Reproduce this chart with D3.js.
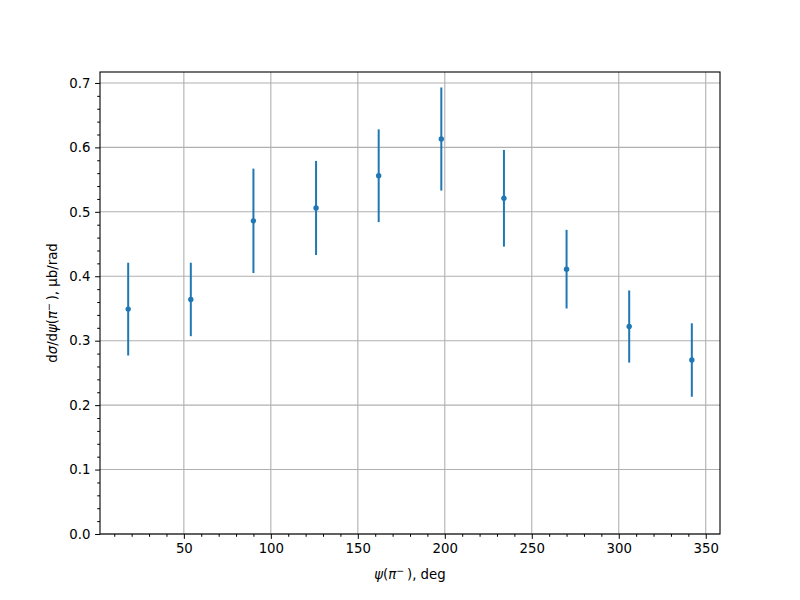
<!DOCTYPE html>
<html>
<head>
<meta charset="utf-8">
<script src="https://cdn.jsdelivr.net/npm/d3@7"></script>
<style>
  body { margin: 0; background: #fff; }
  text { font-family: "DejaVu Sans", sans-serif; }
</style>
</head>
<body>
<svg id="chart" width="800" height="600"></svg>
<script>
const psi = [18, 54, 90, 126, 162, 198, 234, 270, 306, 342];
const xsec = [0.349, 0.364, 0.486, 0.506, 0.556, 0.613, 0.521, 0.411, 0.322, 0.270];
const err = [0.072, 0.057, 0.081, 0.073, 0.072, 0.080, 0.075, 0.061, 0.056, 0.057];
const xTicks = [50, 100, 150, 200, 250, 300, 350];
const yTicks = [0.0, 0.1, 0.2, 0.3, 0.4, 0.5, 0.6, 0.7];

const svg = d3.select("#chart");
const L = 100, R = 720, T = 72, B = 534;
const color = "#1f77b4";

// matplotlib-like autoscale with 5% margins
const xmin = d3.min(psi), xmax = d3.max(psi);
const xpad = 0.05 * (xmax - xmin);
const ylo = d3.min(xsec.map((v, i) => v - err[i]));
const yhi = d3.max(xsec.map((v, i) => v + err[i]));
const x = d3.scaleLinear().domain([xmin - xpad, xmax + xpad]).range([L, R]);
const y = d3.scaleLinear().domain([0, yhi + 0.05 * (yhi - ylo)]).range([B, T]);

const xMinor = d3.range(10, 360, 10).filter(v => v % 50 !== 0 && v >= x.domain()[0] && v <= x.domain()[1]);
const yMinor = d3.range(0, 72, 2).map(v => v / 100).filter(v => Math.round(v * 100) % 10 !== 0 && v <= y.domain()[1]);

// grid
const grid = svg.append("g");
grid.selectAll(".gx").data(xTicks).enter().append("line")
  .attr("x1", d => x(d)).attr("x2", d => x(d)).attr("y1", T).attr("y2", B)
  .attr("stroke", "#b0b0b0").attr("stroke-width", 1.1);
grid.selectAll(".gy").data(yTicks).enter().append("line")
  .attr("x1", L).attr("x2", R).attr("y1", d => y(d)).attr("y2", d => y(d))
  .attr("stroke", "#b0b0b0").attr("stroke-width", 1.1);

// axes
const xAxis = d3.axisBottom(x).tickValues(xTicks).tickFormat(d3.format("d")).tickSize(4.9).tickPadding(4.7);
const yAxis = d3.axisLeft(y).tickValues(yTicks).tickFormat(d3.format(".1f")).tickSize(4.9).tickPadding(4.7);
const gx = svg.append("g").attr("transform", `translate(0,${B})`).call(xAxis);
const gy = svg.append("g").attr("transform", `translate(${L},0)`).call(yAxis);
const gxm = svg.append("g").attr("transform", `translate(0,${B})`)
  .call(d3.axisBottom(x).tickValues(xMinor).tickFormat("").tickSize(2.8));
const gym = svg.append("g").attr("transform", `translate(${L},0)`)
  .call(d3.axisLeft(y).tickValues(yMinor).tickFormat("").tickSize(2.8));
[gx, gy, gxm, gym].forEach(g => {
  g.select(".domain").remove();
  g.selectAll("line").attr("stroke", "#000").attr("stroke-width", 1);
  g.selectAll("text").attr("fill", "#000").style("font-size", "13.3px").style("font-family", "DejaVu Sans, sans-serif");
});

// spines
svg.append("rect").attr("x", L).attr("y", T).attr("width", R - L).attr("height", B - T)
  .attr("fill", "none").attr("stroke", "#000").attr("stroke-width", 1.1);

// error bars
const pts = psi.map((p, i) => ({p, v: xsec[i], e: err[i]}));
svg.append("g").selectAll("line").data(pts).enter().append("line")
  .attr("x1", d => x(d.p)).attr("x2", d => x(d.p))
  .attr("y1", d => y(d.v - d.e)).attr("y2", d => y(d.v + d.e))
  .attr("stroke", color).attr("stroke-width", 2);
svg.append("g").selectAll("circle").data(pts).enter().append("circle")
  .attr("cx", d => x(d.p)).attr("cy", d => y(d.v)).attr("r", 2.7)
  .attr("fill", color);

// labels
const xl = svg.append("text").attr("x", (L + R) / 2).attr("y", 579)
  .attr("text-anchor", "middle").style("font-size", "13.3px");
xl.append("tspan").style("font-style", "italic").text("ψ");
xl.append("tspan").text("(");
xl.append("tspan").style("font-style", "italic").text("π");
xl.append("tspan").attr("dy", -5).style("font-size", "9.5px").text("\u2212");
xl.append("tspan").attr("dy", 5).text("\u2009), deg");

const yl = svg.append("text").attr("transform", `translate(57,${(T + B) / 2}) rotate(-90)`)
  .attr("text-anchor", "middle").style("font-size", "13.3px");
yl.append("tspan").text("d");
yl.append("tspan").style("font-style", "italic").text("σ");
yl.append("tspan").text("/d");
yl.append("tspan").style("font-style", "italic").text("ψ");
yl.append("tspan").text("(");
yl.append("tspan").style("font-style", "italic").text("π");
yl.append("tspan").attr("dy", -5).style("font-size", "9.5px").text("\u2212");
yl.append("tspan").attr("dy", 5).text("\u2009), μb/rad");
</script>
</body>
</html>
